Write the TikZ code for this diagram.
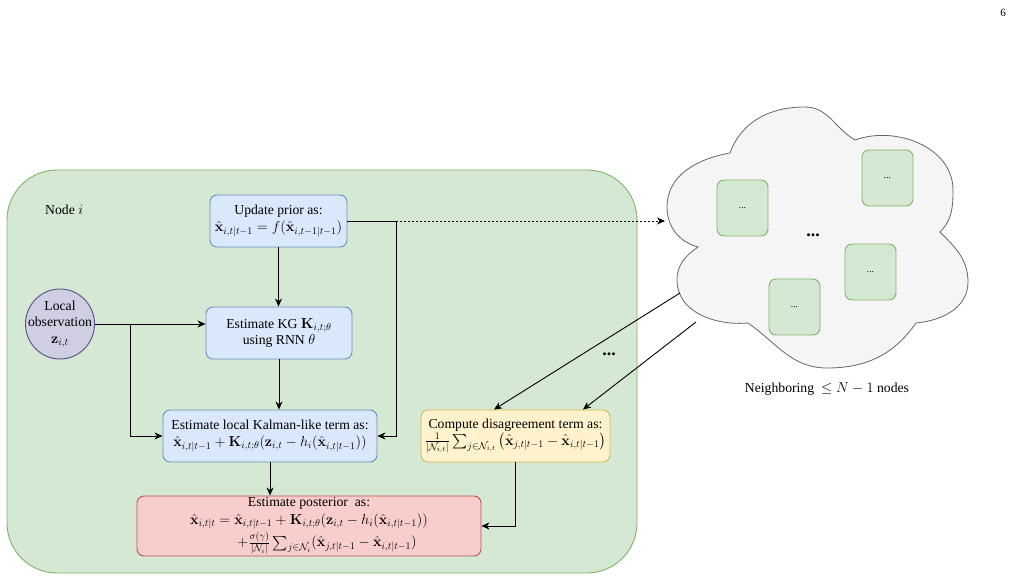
\documentclass[tikz,border=0pt]{standalone}
\usepackage[no-math]{fontspec}
\setmainfont{Liberation Serif}
\usepackage{amsmath}
\usetikzlibrary{arrows.meta,calc,shapes.geometric}
\definecolor{bfill}{HTML}{DAE8FC}\definecolor{bline}{HTML}{6C8EBF}
\definecolor{gfill}{HTML}{D5E8D4}\definecolor{gline}{HTML}{82B366}
\definecolor{pfill}{HTML}{D0CEE2}\definecolor{pline}{HTML}{56517E}
\definecolor{yfill}{HTML}{FFF2CC}\definecolor{yline}{HTML}{D6B656}
\definecolor{rfill}{HTML}{F8CECC}\definecolor{rline}{HTML}{B85450}
\definecolor{cfill}{HTML}{F5F5F5}\definecolor{cline}{HTML}{666666}
\tikzset{
  base/.style={draw, rounded corners=7pt, line width=0.9pt, align=center, inner sep=2pt},
  bluebox/.style={base, fill=bfill, draw=bline},
  yelbox/.style={base, fill=yfill, draw=yline},
  redbox/.style={base, fill=rfill, draw=rline},
  minibox/.style={base, fill=gfill, draw=gline, minimum width=51pt, minimum height=56pt, font=\fontsize{9.5}{10}\selectfont},
  arr/.style={draw=black, line width=0.9pt, -{Stealth[length=8pt,width=7pt,inset=2.5pt]}},
  dotarr/.style={arr, dash pattern=on 1.6pt off 2.4pt},
  plain/.style={inner sep=0pt},
  bigdots/.style={inner sep=0pt, font=\fontsize{18}{20}\bfseries\selectfont},
}
\newcommand{\xh}{\hat{\mathbf{x}}}
\begin{document}
\begin{tikzpicture}[x=1pt,y=1pt,font=\fontsize{13.7}{16.5}\selectfont]
\useasboundingbox (0,0) rectangle (1014,580);
% page number
\node[plain, font=\fontsize{11}{13}\selectfont] (pg) at (1003,567) {6};
% big green container
\draw[fill=gfill, draw=gline, line width=0.9pt, rounded corners=50pt] (7,7) rectangle (637,410);
\node[plain, anchor=west] (nodei) at (45,370) {Node $i$};
% cloud
\coordinate (P1) at (698,333);
\coordinate (L) at (667,373);
\coordinate (P2) at (730,427);
\coordinate (T) at (805,473);
\coordinate (P3) at (855,440);
\coordinate (R1) at (953,390);
\coordinate (P4) at (940,348);
\coordinate (R2) at (968,298);
\coordinate (P5) at (916,257);
\coordinate (B) at (827,212);
\coordinate (P6) at (748,257);
\coordinate (BL) at (677,300);
\draw[fill=cfill, draw=cline, line width=0.8pt]
  (P1) to[out=165,in=270] (L) to[out=90,in=190] (P2)
  to[out=70,in=180] (T) to[out=0,in=150] (P3)
  to[out=20,in=90] (R1) to[out=270,in=45] (P4)
  to[out=-45,in=90] (R2) to[out=270,in=5] (P5)
  to[out=235,in=0] (B) to[out=180,in=-35] (P6)
  to[out=185,in=270] (BL) to[out=90,in=215] (P1) -- cycle;
\node[minibox] (m1) at (742.5,372) {...};
\node[minibox] (m2) at (887.5,402) {...};
\node[minibox] (m3) at (870.5,308) {...};
\node[minibox] (m4) at (794.5,273) {...};
\node[bigdots] (cdots) at (813,345) {...};
\node[plain] (neigh) at (827,191) {Neighboring~ $\leq N-1$ nodes};
\node[bigdots] (mdots) at (609,226) {...};
% main nodes
\node[bluebox, minimum width=137pt, minimum height=52pt] (up) at (278.5,359)
  {Update prior as:\\ $\xh_{i,t|t-1} = f(\xh_{i,t-1|t-1})$};
\node[bluebox, minimum width=146pt, minimum height=52pt] (kg) at (279,247)
  {Estimate KG $\mathbf{K}_{i,t;\theta}$\\ using RNN $\theta$};
\node[draw=pline, fill=pfill, line width=0.9pt, ellipse, minimum width=69pt, minimum height=70pt, inner sep=0pt] (obs) at (60,256) {};
\node[plain, align=center] (obst) at (obs.center)
  {Local\\ observation\\ $\mathbf{z}_{i,t}$};
\node[bluebox, minimum width=214pt, minimum height=52pt] (kal) at (270,144)
  {Estimate local Kalman-like term as:\\ $\xh_{i,t|t-1} + \mathbf{K}_{i,t;\theta}(\mathbf{z}_{i,t} - h_i(\xh_{i,t|t-1}))$};
\node[yelbox, minimum width=189pt, minimum height=52pt] (dis) at (515.5,144)
  {Compute disagreement term as:\\ $\frac{1}{|\mathcal{N}_{i,t}|}\sum_{j\in\mathcal{N}_{i,t}}\left(\xh_{j,t|t-1} - \xh_{i,t|t-1}\right)$};
\node[redbox, minimum width=344pt, minimum height=60pt, inner sep=0.5pt] (post) at (309,54)
  {Estimate posterior~ as:\\[1pt] $\xh_{i,t|t} = \xh_{i,t|t-1} + \mathbf{K}_{i,t;\theta}(\mathbf{z}_{i,t} - h_i(\xh_{i,t|t-1}))$\\[2pt]
   \hspace*{36pt}$+\frac{\sigma(\gamma)}{|\mathcal{N}_i|}\sum_{j\in\mathcal{N}_i}(\xh_{j,t|t-1} - \xh_{i,t|t-1})$};
% connectors
\coordinate (br) at ($(up.east)+(49,0)$);
\coordinate (cloudW) at (665,359);
\coordinate (split) at ($(obs.east)+(35,0)$);
\coordinate (c1) at (680,287);
\coordinate (c2) at (696,258);
\coordinate (d1) at ($(dis.north)+(-21.5,0)$);
\coordinate (d2) at ($(dis.north)+(67.5,0)$);
\draw[arr] (up.east) -- (br) |- (kal.east);
\draw[dotarr] (br) -- (cloudW);
\draw[arr] (up.south) -- (up.south |- kg.north);
\draw[arr] (kg.south) -- (kg.south |- kal.north);
\draw[arr] (kal.south) -- (kal.south |- post.north);
\draw[arr] (obs.east) -- (obs.east -| kg.west);
\draw[arr] (split) |- (kal.west);
\draw[arr] (dis.south) |- (post.east);
\draw[arr] (c1) -- (d1);
\draw[arr] (c2) -- (d2);
\end{tikzpicture}
\end{document}
